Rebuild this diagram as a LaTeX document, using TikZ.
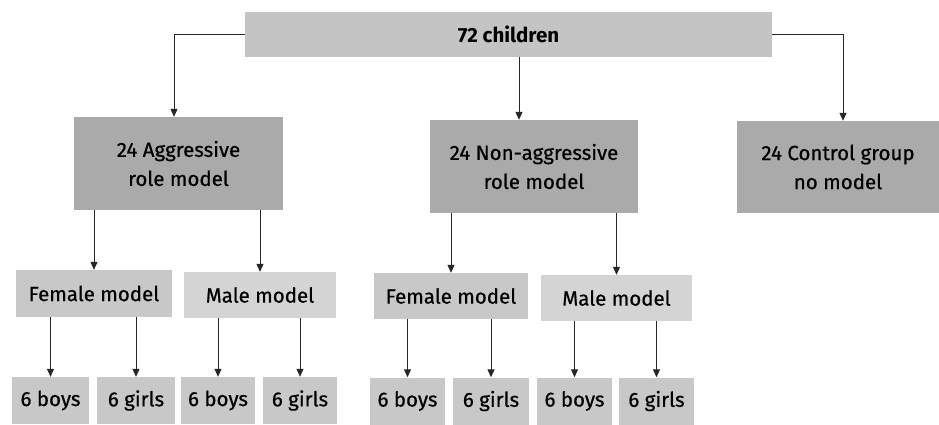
\documentclass[tikz,border=0pt]{standalone}
\usepackage{fontspec}
\setmainfont{Fira Sans}
\usetikzlibrary{arrows.meta}
\definecolor{topgray}{RGB}{196,196,196}
\definecolor{midgray}{RGB}{170,170,170}
\definecolor{femgray}{RGB}{200,200,200}
\definecolor{malegray}{RGB}{212,212,212}
\definecolor{botgray}{RGB}{200,200,200}
\tikzset{
  box/.style={inner sep=0pt, align=center, font=\fontsize{20.5}{29}\selectfont\addfontfeature{FakeBold=0.6}, text=black},
  arr/.style={draw=black!85, line width=1pt, -{Triangle[length=8pt,width=7pt]}},
}
\begin{document}
\begin{tikzpicture}[x=1pt,y=-1pt]
\useasboundingbox (0,0) rectangle (939,424);
\node[box, fill=topgray, minimum width=527pt, minimum height=45pt, font=\fontsize{20.5}{29}\selectfont\bfseries] (top) at (508.5,34.5) {72 children};
\node[box, fill=midgray, minimum width=209pt, minimum height=93pt] (agg) at (178.5,163.5) {24 Aggressive\\role model};
\node[box, fill=midgray, minimum width=208pt, minimum height=93pt] (non) at (534,166.5) {24 Non-aggressive\\role model};
\node[box, fill=midgray, minimum width=202pt, minimum height=92pt] (ctrl) at (838,167) {24 Control group\\no model};
\node[box, fill=femgray, minimum width=156pt, minimum height=47pt] (f1) at (94,293.5) {Female model};
\node[box, fill=malegray, minimum width=152pt, minimum height=46pt] (m1) at (260,295) {Male model};
\node[box, fill=femgray, minimum width=154pt, minimum height=46pt] (f2) at (451,296) {Female model};
\node[box, fill=malegray, minimum width=151pt, minimum height=46pt] (m2) at (616.5,298) {Male model};
\node[box, fill=botgray, minimum width=77pt, minimum height=47pt] (b1) at (50.5,400.5) {6 boys};
\node[box, fill=botgray, minimum width=78pt, minimum height=47pt] (g1) at (136,400.5) {6 girls};
\node[box, fill=botgray, minimum width=74pt, minimum height=47pt] (b2) at (218,400.5) {6 boys};
\node[box, fill=botgray, minimum width=74pt, minimum height=47pt] (g2) at (300,400.5) {6 girls};
\node[box, fill=botgray, minimum width=75pt, minimum height=47pt] (b3) at (407.5,401) {6 boys};
\node[box, fill=botgray, minimum width=76pt, minimum height=47pt] (g3) at (491,401) {6 girls};
\node[box, fill=botgray, minimum width=75pt, minimum height=47pt] (b4) at (574.5,401) {6 boys};
\node[box, fill=botgray, minimum width=75pt, minimum height=47pt] (g4) at (656.5,401) {6 girls};
\coordinate (aggin) at ([xshift=-4.5pt]agg.north);
\coordinate (nonin) at ([xshift=-15pt]non.north);
\coordinate (ctrlin) at ([xshift=5pt]ctrl.north);
\draw[arr] (top.west) -| (aggin);
\draw[arr] (top.south -| nonin) -- (nonin);
\draw[arr] (top.east) -| (ctrlin);
\draw[arr] (agg.south -| f1.north) -- (f1.north);
\draw[arr] (agg.south -| m1.north) -- (m1.north);
\draw[arr] (non.south -| f2.north) -- (f2.north);
\draw[arr] (non.south -| m2.north) -- (m2.north);
\draw[arr] (f1.south -| b1.north) -- (b1.north);
\draw[arr] (f1.south -| g1.north) -- (g1.north);
\draw[arr] (m1.south -| b2.north) -- (b2.north);
\draw[arr] (m1.south -| g2.north) -- (g2.north);
\draw[arr] (f2.south -| b3.north) -- (b3.north);
\draw[arr] (f2.south -| g3.north) -- (g3.north);
\draw[arr] (m2.south -| b4.north) -- (b4.north);
\draw[arr] (m2.south -| g4.north) -- (g4.north);
\end{tikzpicture}
\end{document}
